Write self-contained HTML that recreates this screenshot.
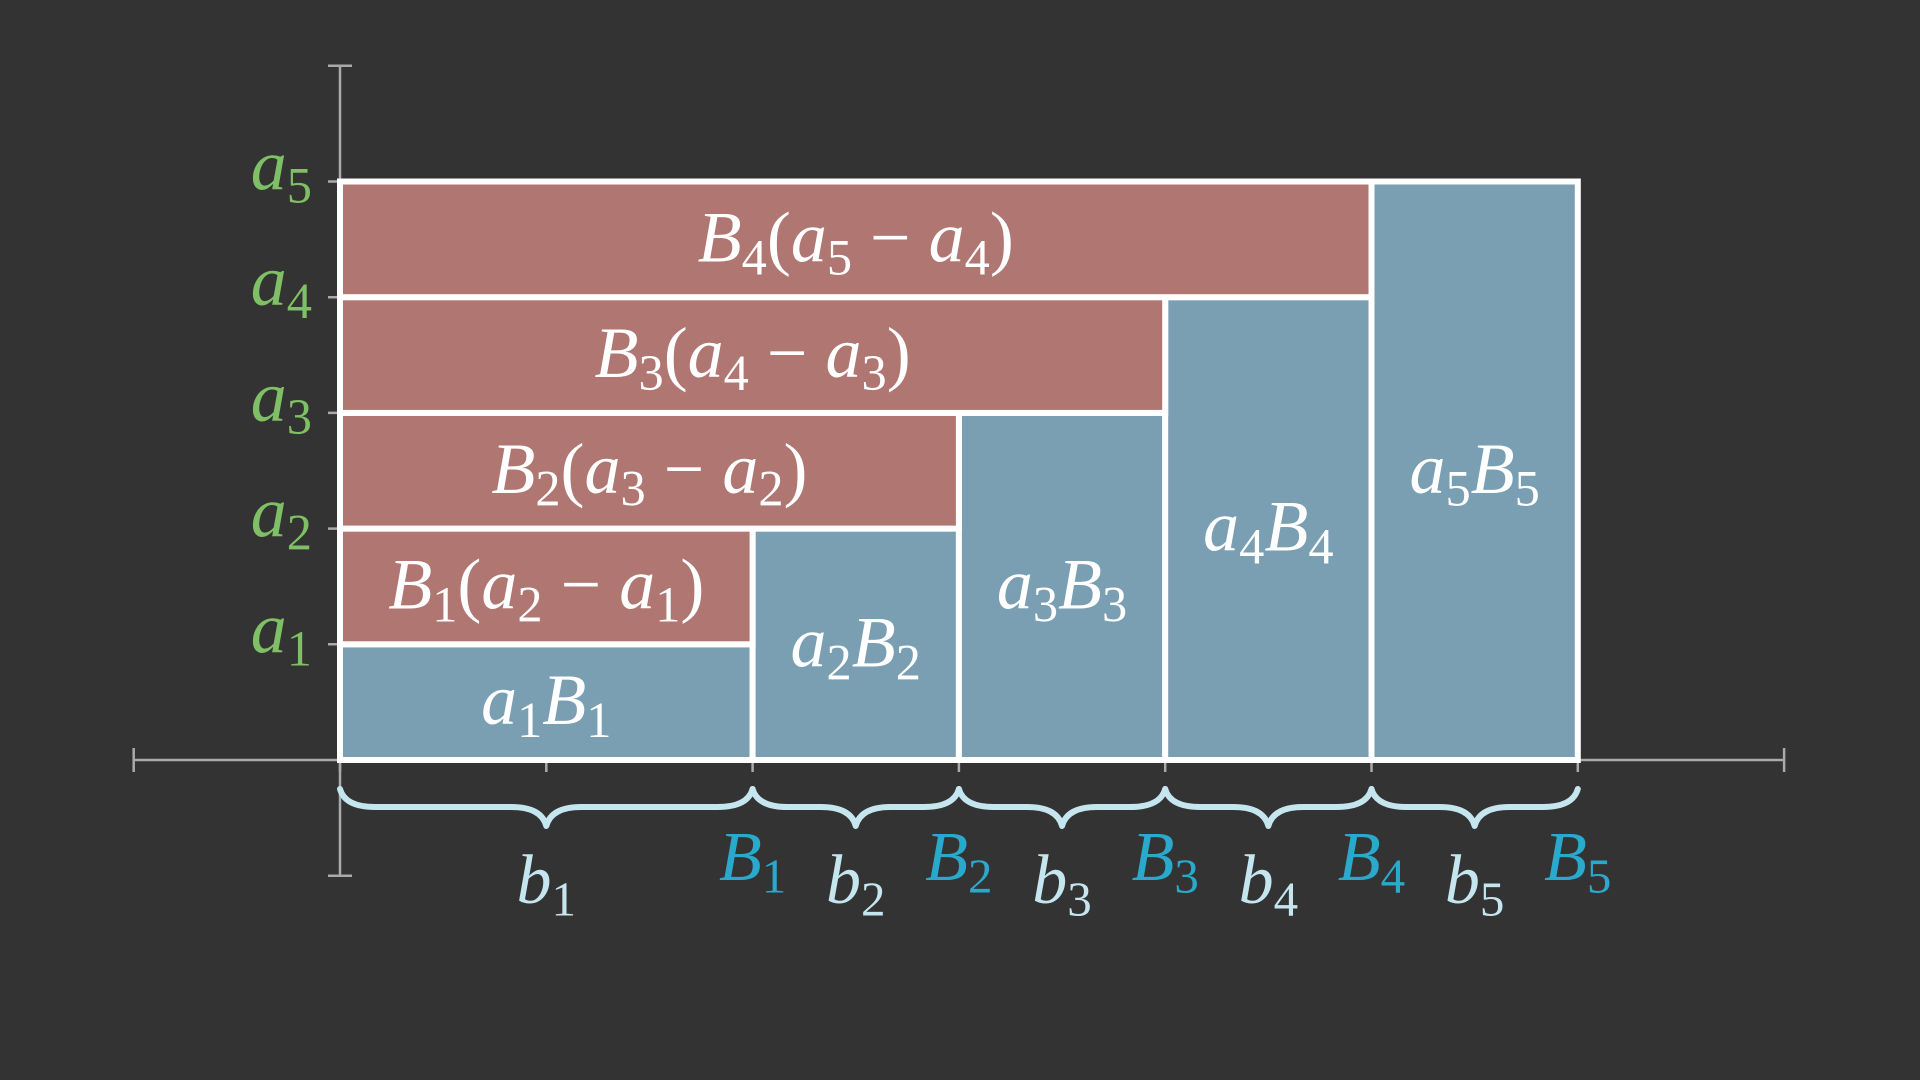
<!DOCTYPE html>
<html><head><meta charset="utf-8"><style>
html,body{margin:0;padding:0;background:#333333;width:1920px;height:1080px;overflow:hidden}
svg text{font-family:"Liberation Serif","DejaVu Serif",serif}
</style></head><body>
<svg id="chart" width="1920" height="1080" xmlns="http://www.w3.org/2000/svg"></svg>
<script>
const aVals=[1,2,3,4,5];
const BVals=[2,3,4,5,6];
const aLabels=["1","2","3","4","5"];
const xTicks=[-1,0,1,2,3,4,5,6,7];
const NS="http://www.w3.org/2000/svg";
const svg=document.getElementById('chart');
const X0=340,Y0=760,UX=206.3,UY=115.7;
const sx=v=>X0+v*UX, sy=v=>Y0-v*UY;
function el(tag,attrs,parent){const e=document.createElementNS(NS,tag);for(const k in attrs)e.setAttribute(k,attrs[k]);(parent||svg).appendChild(e);return e;}
function mathText(parent,x,y,parts,size,color,anchor){
  const t=el('text',{x:x,y:y,'font-size':size,fill:color,'text-anchor':anchor||'middle'},parent);
  parts.forEach(p=>{const s=el('tspan',{},t);s.textContent=p[0];
    if(p[1]==='i')s.setAttribute('font-style','italic');
    if(p[1]==='sub'){s.setAttribute('font-size',size*0.7);s.setAttribute('dy',size*0.18);}
    if(p[1]==='i-after-sub'){s.setAttribute('font-style','italic');s.setAttribute('dy',-size*0.18);}
    if(p[1]==='up-after-sub'){s.setAttribute('dy',-size*0.18);}
  });return t;}
const axes=el('g',{stroke:'#aaaaaa','stroke-width':2.5});

el('line',{x1:sx(-1),y1:Y0,x2:sx(7),y2:Y0},axes);
el('line',{x1:X0,y1:sy(6),x2:X0,y2:sy(-1)},axes);
xTicks.forEach(v=>el('line',{x1:sx(v),y1:Y0-12,x2:sx(v),y2:Y0+12},axes));
[...aVals,6].forEach(v=>el('line',{x1:X0-12,y1:sy(v),x2:X0+12,y2:sy(v)},axes));
el('line',{x1:X0-12,y1:sy(-1),x2:X0+12,y2:sy(-1)},axes);
const rg=el('g',{stroke:'#ffffff','stroke-width':6});

for(let i=0;i<5;i++){
  const x0=i?BVals[i-1]:0, x1=BVals[i];
  const r=el('rect',{x:sx(x0),y:sy(aVals[i]),width:sx(x1)-sx(x0),height:sy(0)-sy(aVals[i]),fill:'#7a9fb3'},rg);
  
}
for(let i=0;i<4;i++){
  const r=el('rect',{x:sx(0),y:sy(aVals[i+1]),width:sx(BVals[i])-sx(0),height:sy(aVals[i])-sy(aVals[i+1]),fill:'#b07672'},rg);
  
}
const lg=el('g',{});
for(let i=0;i<5;i++){
  const x0=i?BVals[i-1]:0,x1=BVals[i];
  const t=mathText(lg,(sx(x0)+sx(x1))/2,(sy(aVals[i])+sy(0))/2+22,[['a','i'],[aLabels[i],'sub'],['B','i-after-sub'],[aLabels[i],'sub']],72,'#ffffff');
  
}
for(let i=0;i<4;i++){
  const t=mathText(lg,(sx(0)+sx(BVals[i]))/2,(sy(aVals[i])+sy(aVals[i+1]))/2+22,
   [['B','i'],[aLabels[i],'sub'],['(','up-after-sub'],['a','i'],[aLabels[i+1],'sub'],[' − ','up-after-sub'],['a','i'],[aLabels[i],'sub'],[')','up-after-sub']],72,'#ffffff');
  
}
for(let i=0;i<5;i++){
  const t=mathText(svg,312,sy(aVals[i])+8,[['a','i'],[aLabels[i],'sub']],72,'#7fbf65','end');
  
}
const bg=el('g',{fill:'none',stroke:'#c5e6ef','stroke-width':6,'stroke-linecap':'round','stroke-linejoin':'round'});

for(let i=0;i<5;i++){
  const x0=sx(i?BVals[i-1]:0),x1=sx(BVals[i]),m=(x0+x1)/2;
  const yt=789,yh=807,yc=826;
  el('path',{d:`M${x0},${yt} Q${x0+5},${yh} ${x0+35},${yh} L${m-35},${yh} Q${m-5},${yh} ${m},${yc} Q${m+5},${yh} ${m+35},${yh} L${x1-35},${yh} Q${x1-5},${yh} ${x1},${yt}`},bg);
  const b=mathText(svg,m,903,[['b','i'],[aLabels[i],'sub']],70,'#c5e6ef');
  
  const B=mathText(svg,x1,880,[['B','i'],[aLabels[i],'sub']],70,'#2aa9cc');
  
}
</script>
</body></html>
